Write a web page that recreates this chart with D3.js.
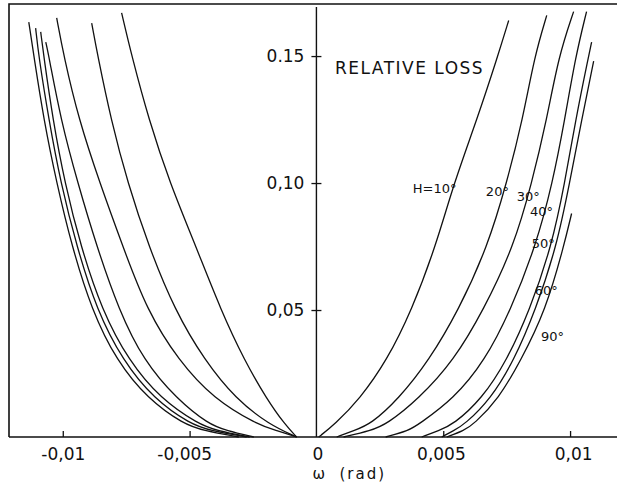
<!DOCTYPE html>
<html>
<head>
<meta charset="utf-8">
<script src="https://cdn.jsdelivr.net/npm/d3@7"></script>
<style>
  body { margin: 0; background: #fff; }
  svg { display: block; font-family: "DejaVu Sans", sans-serif; }
</style>
</head>
<body>
<svg id="chart" width="617" height="487"></svg>
<script>
// sun height H for each curve
const hValues = [10, 20, 30, 40, 50, 60, 90];

// [omega (rad), relative loss], one branch per side
const h10Left = [[-0.00768, 0.167], [-0.00728, 0.150], [-0.00661, 0.125], [-0.00578, 0.100], [-0.00475, 0.075], [-0.00377, 0.050], [-0.00283, 0.030], [-0.00196, 0.015], [-0.00125, 0.005], [-0.00078, 0]];
const h10Right = [[0.00009, 0], [0.00072, 0.005], [0.00171, 0.015], [0.00277, 0.030], [0.00376, 0.050], [0.00470, 0.075], [0.00542, 0.100], [0.00633, 0.125], [0.00715, 0.150], [0.00758, 0.164]];

const h20Left = [[-0.00886, 0.163], [-0.00862, 0.150], [-0.00810, 0.125], [-0.00744, 0.100], [-0.00661, 0.075], [-0.00559, 0.050], [-0.00440, 0.030], [-0.00318, 0.015], [-0.00188, 0.005], [-0.00078, 0]];
const h20Right = [[0.00080, 0], [0.00147, 0.0025], [0.00214, 0.005], [0.00324, 0.015], [0.00443, 0.030], [0.00561, 0.050], [0.00675, 0.075], [0.00750, 0.100], [0.00813, 0.125], [0.00860, 0.150], [0.00908, 0.166]];

const h30Left = [[-0.01024, 0.165], [-0.00996, 0.150], [-0.00937, 0.125], [-0.00854, 0.100], [-0.00763, 0.075], [-0.00669, 0.050], [-0.00543, 0.030], [-0.00405, 0.015], [-0.00235, 0.005], [-0.00157, 0.0025], [-0.00078, 0]];
const h30Right = [[0.00107, 0], [0.00214, 0.0025], [0.00277, 0.005], [0.00403, 0.015], [0.00541, 0.030], [0.00659, 0.050], [0.00778, 0.075], [0.00849, 0.100], [0.00908, 0.125], [0.00955, 0.150], [0.01014, 0.1675]];

const h40Left = [[-0.01067, 0.1555], [-0.01055, 0.150], [-0.01008, 0.125], [-0.00941, 0.100], [-0.00866, 0.075], [-0.00779, 0.050], [-0.00681, 0.030], [-0.00551, 0.015], [-0.00425, 0.005], [-0.00354, 0.0025], [-0.00247, 0]];
const h40Right = [[0.00273, 0], [0.00364, 0.0025], [0.00403, 0.005], [0.00541, 0.015], [0.00664, 0.030], [0.00766, 0.050], [0.00864, 0.075], [0.00931, 0.100], [0.00979, 0.125], [0.01022, 0.150], [0.01065, 0.1675]];

const h50Left = [[-0.01087, 0.1595], [-0.01075, 0.150], [-0.01039, 0.125], [-0.00992, 0.100], [-0.00929, 0.075], [-0.00846, 0.050], [-0.00740, 0.030], [-0.00614, 0.015], [-0.00464, 0.005], [-0.00393, 0.0025], [-0.00263, 0]];
const h50Right = [[0.00415, 0], [0.00482, 0.0025], [0.00541, 0.005], [0.00652, 0.015], [0.00750, 0.030], [0.00841, 0.050], [0.00927, 0.075], [0.00979, 0.100], [0.01022, 0.125], [0.01073, 0.150], [0.01085, 0.1555]];

const h60Left = [[-0.01107, 0.161], [-0.01095, 0.150], [-0.01055, 0.125], [-0.01008, 0.100], [-0.00945, 0.075], [-0.00866, 0.050], [-0.00763, 0.030], [-0.00641, 0.015], [-0.00496, 0.005], [-0.00417, 0.0025], [-0.00275, 0]];
const h60Right = [[0.00494, 0], [0.00541, 0.0025], [0.00585, 0.005], [0.00687, 0.015], [0.00778, 0.030], [0.00864, 0.050], [0.00947, 0.075], [0.00998, 0.100], [0.01046, 0.125], [0.01093, 0.148]];

const h90Left = [[-0.01134, 0.1634], [-0.01114, 0.150], [-0.01075, 0.125], [-0.01024, 0.100], [-0.00964, 0.075], [-0.00886, 0.050], [-0.00788, 0.030], [-0.00665, 0.015], [-0.00523, 0.005], [-0.00444, 0.0025], [-0.00306, 0]];
const h90Right = [[0.00514, 0], [0.00581, 0.0025], [0.00620, 0.005], [0.00718, 0.015], [0.00805, 0.030], [0.00904, 0.050], [0.00975, 0.075], [0.01006, 0.088]];

const xTicks = [-0.01, -0.005, 0, 0.005, 0.01];
const xTickLabels = ["-0,01", "-0,005", "0", "0,005", "0,01"];
const yTicks = [0.05, 0.10, 0.15];
const yTickLabels = ["0,05", "0,10", "0.15"];

// curve labels, placed in data units
const curveLabels = ["H=10°", "20°", "30°", "40°", "50°", "60°", "90°"];
const labelOmega = [0.0038, 0.00668, 0.0079, 0.00842, 0.00849, 0.00861, 0.00885];
const labelLoss = [0.0961, 0.0949, 0.0929, 0.087, 0.0744, 0.0559, 0.0378];

const lefts = [h10Left, h20Left, h30Left, h40Left, h50Left, h60Left, h90Left];
const rights = [h10Right, h20Right, h30Right, h40Right, h50Right, h60Right, h90Right];

const frame = { left: 9, top: 4, right: 617, bottom: 437 };
const svg = d3.select("#chart");

const x = d3.scaleLinear().domain([-0.01212, 0.01185]).range([frame.left, frame.right]);
const y = d3.scaleLinear().domain([0, 0.1705]).range([frame.bottom, frame.top]);

// frame: left, top and bottom edges
svg.append("path")
  .attr("d", `M${frame.left},${frame.bottom}V${frame.top}H${frame.right}M${frame.left},${frame.bottom}H${frame.right}`)
  .attr("fill", "none")
  .attr("stroke", "#111")
  .attr("stroke-width", 1.6);

// vertical axis at omega = 0
svg.append("line")
  .attr("x1", x(0)).attr("x2", x(0))
  .attr("y1", frame.top + 3).attr("y2", frame.bottom)
  .attr("stroke", "#111")
  .attr("stroke-width", 1.4);

const styleAxis = (g) => {
  g.select(".domain").remove();
  g.attr("font-size", 17).attr("font-family", "DejaVu Sans, sans-serif");
  g.selectAll("line").attr("stroke", "#111").attr("stroke-width", 1.3);
  g.selectAll("text").attr("fill", "#111");
};

const xAxis = svg.append("g")
  .attr("transform", `translate(0,${frame.bottom})`)
  .call(d3.axisBottom(x)
    .tickValues(xTicks)
    .tickFormat((d, i) => xTickLabels[i])
    .tickSizeInner(-6)
    .tickSizeOuter(0)
    .tickPadding(11))
  .call(styleAxis);
xAxis.selectAll(".tick")
  .filter((d) => d === 0)
  .select("line").remove();
xAxis.selectAll("text")
  .attr("text-anchor", (d) => d === 0 ? "middle" : "end")
  .attr("x", (d) => d === 0 ? 1 : 22);

svg.append("g")
  .attr("transform", `translate(${x(0)},0)`)
  .call(d3.axisLeft(y)
    .tickValues(yTicks)
    .tickFormat((d, i) => yTickLabels[i])
    .tickSizeInner(5)
    .tickSizeOuter(0)
    .tickPadding(7))
  .call(styleAxis)
  .selectAll(".tick line")
  .attr("x1", 5);

const line = d3.line()
  .x((d) => x(d[0]))
  .y((d) => y(d[1]))
  .curve(d3.curveBasis);

const series = hValues.map((h, i) => ({ h, left: lefts[i], right: rights[i] }));

const curves = svg.append("g")
  .attr("fill", "none")
  .attr("stroke", "#111")
  .attr("stroke-width", 1.3);

series.forEach((s) => {
  curves.append("path").attr("d", line(s.left));
  curves.append("path").attr("d", line(s.right));
});

svg.append("g")
  .attr("font-size", 13)
  .attr("fill", "#111")
  .selectAll("text")
  .data(curveLabels)
  .join("text")
  .attr("x", (d, i) => x(labelOmega[i]))
  .attr("y", (d, i) => y(labelLoss[i]))
  .text((d) => d);

svg.append("text")
  .attr("x", x(0.00073))
  .attr("y", y(0.1429))
  .attr("font-size", 17)
  .attr("letter-spacing", 1.5)
  .attr("fill", "#111")
  .text("RELATIVE LOSS");

const axisTitle = svg.append("text")
  .attr("y", frame.bottom + 42)
  .attr("font-size", 15)
  .attr("fill", "#111");
axisTitle.append("tspan").attr("x", x(0) - 4).text("ω");
axisTitle.append("tspan").attr("x", x(0) + 23).attr("letter-spacing", 2).text("(rad)");
</script>
</body>
</html>
